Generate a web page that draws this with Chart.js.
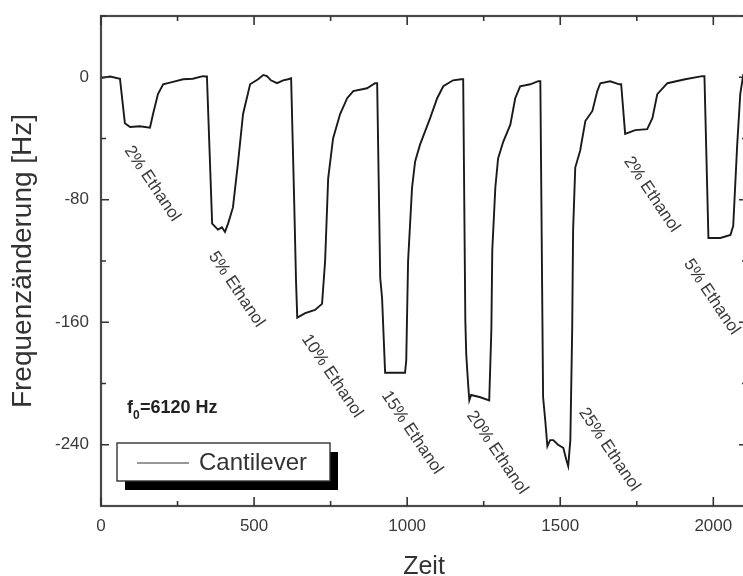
<!DOCTYPE html>
<html lang="de">
<head>
    <meta charset="UTF-8">
    <title>Cantilever Frequenzänderung</title>
    <script src="https://cdn.jsdelivr.net/npm/chart.js"></script>
    <style>
        body {
            margin: 0;
            background: #fff;
            overflow: hidden;
        }
        #chart {
            position: absolute;
            left: 0;
            top: 0;
        }
    </style>
</head>
<body>
    <canvas id="chart" width="760" height="576"></canvas>

    <script>
        // Messkurve (Zeit, Frequenzänderung in Hz)
        const zeit = [
            0, 30, 62, 78, 95, 127, 160, 170, 186, 203, 235, 268, 300, 333, 340,
            346, 363, 382, 395, 405, 415, 431, 448, 464, 487, 513, 530, 542, 555, 575, 595, 611,
            621, 631, 637, 641, 667, 699, 722, 732, 742, 758, 781, 804, 824, 869, 895,
            902, 912, 918, 928, 961, 993, 997, 1003, 1016, 1026, 1042, 1075, 1098, 1118, 1150, 1176,
            1183, 1190, 1193, 1199, 1203, 1209, 1239, 1268, 1275, 1278, 1288, 1297, 1314, 1337, 1353, 1369, 1402, 1428,
            1435, 1444, 1451, 1458, 1467, 1477, 1493, 1510, 1520, 1526, 1533, 1539, 1542, 1549, 1565, 1582, 1605, 1621, 1631, 1663, 1693,
            1699, 1712, 1745, 1784, 1801, 1817, 1850, 1908, 1964,
            1971, 1984, 2023, 2056, 2065, 2078, 2088, 2098
        ];
        const frequenz = [
            -0.5, 0.5, -1, -30, -32.5, -32, -33, -24, -11, -4.6, -3, -1.3, -1, 0.7, 0.5,
            0.5, -95.6, -99.5, -98, -101, -95.6, -85, -55, -24, -4.6, -1.3, 1.5, 0.7, -2, -3.9, -2, -1.3,
            -0.7, -81, -133, -157, -154, -152, -148, -120, -66, -40, -24, -13.7, -9, -7.2, -3.9,
            -3.9, -131, -144, -193, -193, -193, -185, -120, -72, -55, -44, -26.7, -13.7, -5.9, -2, -1.3,
            -1.3, -159, -181, -200, -211, -207.5, -209, -211, -165, -113, -72, -53, -42, -31, -13.7, -5.9, -4.6, -2.6,
            -2.6, -209, -224, -241, -237, -237, -240, -242, -250, -254, -237, -165, -100, -59, -48, -28.6, -22, -9, -3.9, -2.6, -4.6,
            -4.6, -37, -34.5, -33.9, -26.7, -11, -3.9, -1.3, 0.7,
            0.7, -105, -105, -103, -97, -44, -11, 2
        ];

        const xTicks = [0, 500, 1000, 1500, 2000];
        const xMinor = [250, 750, 1250, 1750];
        const yTicks = [0, -80, -160, -240];
        const yMinor = [40, -40, -120, -200];

        // Beschriftungen der Einbrüche
        const labelText = ['2% Ethanol', '5% Ethanol', '10% Ethanol', '15% Ethanol',
                           '20% Ethanol', '25% Ethanol', '2% Ethanol', '5% Ethanol'];
        const labelX = [88, 363, 667, 928, 1206, 1572, 1719, 1915];
        const labelY = [-46, -115, -169, -206, -219, -217, -53, -120];

        const FONT = "'Liberation Sans', Arial, sans-serif";
        const points = zeit.map((t, i) => ({ x: t, y: frequenz[i] }));

        const framePlugin = {
            id: 'frame',
            afterDraw(chart) {
                const ctx = chart.ctx;
                const ca = chart.chartArea;
                const xs = chart.scales.x;
                const ys = chart.scales.y;
                ctx.save();

                // Rahmen
                ctx.strokeStyle = '#4a4a4a';
                ctx.lineWidth = 2.2;
                ctx.strokeRect(ca.left, ca.top, ca.right - ca.left, ca.bottom - ca.top);

                // Tick-Striche nach innen
                ctx.lineWidth = 1.6;
                ctx.strokeStyle = '#333';
                const tickX = (v, len) => {
                    const p = xs.getPixelForValue(v);
                    ctx.beginPath();
                    ctx.moveTo(p, ca.bottom); ctx.lineTo(p, ca.bottom - len);
                    ctx.moveTo(p, ca.top); ctx.lineTo(p, ca.top + len);
                    ctx.stroke();
                };
                const tickY = (v, len) => {
                    const p = ys.getPixelForValue(v);
                    ctx.beginPath();
                    ctx.moveTo(ca.left, p); ctx.lineTo(ca.left + len, p);
                    ctx.moveTo(ca.right, p); ctx.lineTo(ca.right - len, p);
                    ctx.stroke();
                };
                xTicks.forEach(v => tickX(v, 9));
                xMinor.forEach(v => tickX(v, 5));
                yTicks.forEach(v => tickY(v, 8));
                yMinor.forEach(v => tickY(v, 5));

                // schräge Beschriftungen
                ctx.fillStyle = '#3a3a3a';
                ctx.font = '17px ' + FONT;
                ctx.textAlign = 'left';
                ctx.textBaseline = 'middle';
                labelText.forEach((txt, i) => {
                    ctx.save();
                    ctx.translate(xs.getPixelForValue(labelX[i]), ys.getPixelForValue(labelY[i]));
                    ctx.rotate(56 * Math.PI / 180);
                    ctx.fillText(txt, 0, 0);
                    ctx.restore();
                });

                // f0 = 6120 Hz
                ctx.fillStyle = '#222';
                ctx.textBaseline = 'alphabetic';
                const fx = ca.left + 26, fy = ca.bottom - 93;
                ctx.font = 'bold 18px ' + FONT;
                ctx.fillText('f', fx, fy);
                ctx.font = 'bold 12px ' + FONT;
                ctx.fillText('0', fx + 6, fy + 6);
                ctx.font = 'bold 18px ' + FONT;
                ctx.fillText('=6120 Hz', fx + 13, fy);

                // Legende mit Schatten
                const lx = ca.left + 16, ly = ca.bottom - 63, lw = 213, lh = 38;
                ctx.fillStyle = '#000';
                ctx.fillRect(lx + 8, ly + 9, lw, lh);
                ctx.fillStyle = '#fff';
                ctx.fillRect(lx, ly, lw, lh);
                ctx.lineWidth = 1.4;
                ctx.strokeStyle = '#333';
                ctx.strokeRect(lx, ly, lw, lh);
                ctx.beginPath();
                ctx.lineWidth = 1.2;
                ctx.moveTo(lx + 20, ly + 20);
                ctx.lineTo(lx + 72, ly + 20);
                ctx.stroke();
                ctx.fillStyle = '#333';
                ctx.font = '24px ' + FONT;
                ctx.textBaseline = 'middle';
                ctx.fillText('Cantilever', lx + 82, ly + 20);

                ctx.restore();
            }
        };

        new Chart(document.getElementById('chart'), {
            type: 'line',
            data: {
                datasets: [{
                    label: 'Cantilever',
                    data: points,
                    borderColor: '#1a1a1a',
                    borderWidth: 1.9,
                    pointRadius: 0,
                    tension: 0,
                    fill: false
                }]
            },
            options: {
                responsive: false,
                animation: false,
                devicePixelRatio: 1,
                layout: { padding: { top: 16, right: 13, left: 0, bottom: 0 } },
                plugins: {
                    legend: { display: false },
                    tooltip: { enabled: false }
                },
                scales: {
                    x: {
                        type: 'linear',
                        min: 0,
                        max: 2110,
                        afterBuildTicks: s => { s.ticks = xTicks.map(v => ({ value: v })); },
                        afterFit: s => { s.height = 70; s.paddingLeft = 0; s.paddingRight = 0; },
                        grid: { display: false, drawTicks: false },
                        border: { display: false },
                        ticks: {
                            color: '#3a3a3a',
                            padding: 10,
                            maxRotation: 0,
                            callback: v => String(v),
                            font: { family: FONT, size: 17 }
                        },
                        title: {
                            display: true,
                            text: 'Zeit',
                            color: '#333',
                            padding: { top: 0, bottom: -6 },
                            font: { family: FONT, size: 25 }
                        }
                    },
                    y: {
                        type: 'linear',
                        min: -280,
                        max: 40,
                        afterBuildTicks: s => { s.ticks = yTicks.map(v => ({ value: v })); },
                        afterFit: s => { s.width = 101; s.paddingTop = 0; s.paddingBottom = 0; },
                        grid: { display: false, drawTicks: false },
                        border: { display: false },
                        ticks: {
                            color: '#3a3a3a',
                            padding: 12,
                            callback: v => String(v),
                            font: { family: FONT, size: 17 }
                        },
                        title: {
                            display: true,
                            text: 'Frequenzänderung [Hz]',
                            color: '#333',
                            padding: { top: 6, bottom: 0 },
                            font: { family: FONT, size: 28 }
                        }
                    }
                }
            },
            plugins: [framePlugin]
        });
    </script>
</body>
</html>
